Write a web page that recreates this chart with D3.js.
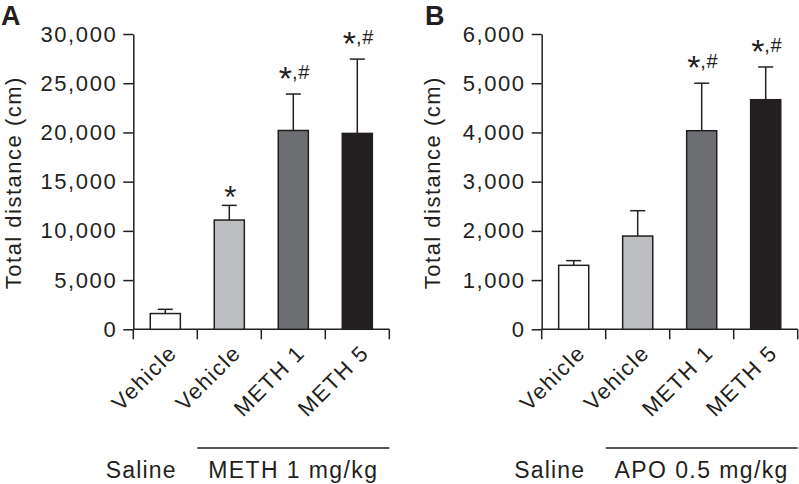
<!DOCTYPE html>
<html>
<head>
<meta charset="utf-8">
<script src="https://cdn.jsdelivr.net/npm/d3@7"></script>
<style>
  html, body { margin: 0; padding: 0; background: #fff; }
  svg { display: block; }
  text { font-family: "Liberation Sans", Arial, Helvetica, sans-serif; fill: #231f20; }
</style>
</head>
<body>
<svg id="chart" width="799" height="484"></svg>
<script>
// ---- data ----
const categories = ["Vehicle", "Vehicle", "METH 1", "METH 5"];
const barColors = ["#ffffff", "#bcbdc0", "#6d6e71", "#231f20"];

const meansA = [1600, 11100, 20200, 19900];
const semA   = [430, 1490, 3700, 7550];
const sigA   = ["", "*", "*,#", "*,#"];
const ticksA = [0, 5000, 10000, 15000, 20000, 25000, 30000];
const maxA   = 30000;
const groupA = ["Saline", "METH 1 mg/kg"];

const meansB = [1300, 1895, 4035, 4665];
const semB   = [95, 515, 965, 665];
const sigB   = ["", "", "*,#", "*,#"];
const ticksB = [0, 1000, 2000, 3000, 4000, 5000, 6000];
const maxB   = 6000;
const groupB = ["Saline", "APO 0.5 mg/kg"];

const yLabel = "Total distance (cm)";

// ---- drawing ----
const svg = d3.select("#chart");
const ink = "#231f20";
const fmt = d3.format(",");
const yTop = 34, yBottom = 329.3;

function panel(opt) {
  const { letter, letterX, x0, labelX, means, sem, sig, ticks, max, group } = opt;
  const g = svg.append("g");
  const width = 256;

  const y = d3.scaleLinear().domain([0, max]).range([yBottom, yTop]);
  const x = d3.scaleBand().domain(d3.range(categories.length))
    .range([x0, x0 + width]).paddingInner(0.53).paddingOuter(0.265);

  // panel letter
  g.append("text").attr("x", letterX).attr("y", 25)
    .attr("font-size", 27).attr("font-weight", "bold").text(letter);

  // y axis
  const yAxis = d3.axisLeft(y).tickValues(ticks).tickFormat(fmt)
    .tickSize(10).tickSizeOuter(0).tickPadding(6);
  const ya = g.append("g").attr("transform", `translate(${x0},0)`).call(yAxis);
  ya.selectAll("path, line").attr("stroke", ink).attr("stroke-width", 1.5);
  ya.selectAll("text").attr("font-size", 22).attr("letter-spacing", 1.6)
    .attr("fill", ink).style("font-family", '"Liberation Sans", Arial, sans-serif');

  // x axis line and boundary ticks
  g.append("line").attr("x1", x0).attr("x2", x0 + width)
    .attr("y1", yBottom).attr("y2", yBottom)
    .attr("stroke", ink).attr("stroke-width", 1.5);
  const bounds = d3.range(categories.length + 1).map(i => x0 + i * x.step());
  g.selectAll(".xt").data(bounds).enter().append("line")
    .attr("x1", d => d).attr("x2", d => d)
    .attr("y1", yBottom).attr("y2", yBottom + 10)
    .attr("stroke", ink).attr("stroke-width", 1.5);

  // y label
  g.append("text")
    .attr("transform", `translate(${labelX},${(yTop + yBottom) / 2 + 1}) rotate(-90)`)
    .attr("text-anchor", "middle").attr("font-size", 22).attr("letter-spacing", 1.5)
    .text(yLabel);

  // error bars (upper only)
  const idx = d3.range(categories.length);
  const cx = i => x(i) + x.bandwidth() / 2;
  g.selectAll(".err").data(idx).enter().append("line")
    .attr("x1", cx).attr("x2", cx)
    .attr("y1", i => y(means[i])).attr("y2", i => y(means[i] + sem[i]))
    .attr("stroke", ink).attr("stroke-width", 1.5);
  g.selectAll(".cap").data(idx).enter().append("line")
    .attr("x1", i => cx(i) - 7.5).attr("x2", i => cx(i) + 7.5)
    .attr("y1", i => y(means[i] + sem[i])).attr("y2", i => y(means[i] + sem[i]))
    .attr("stroke", ink).attr("stroke-width", 1.5);

  // bars
  g.selectAll(".bar").data(idx).enter().append("rect")
    .attr("x", i => x(i)).attr("width", x.bandwidth())
    .attr("y", i => y(means[i])).attr("height", i => yBottom - y(means[i]))
    .attr("fill", i => barColors[i]).attr("stroke", ink).attr("stroke-width", 1.5);

  // significance marks
  idx.filter(i => sig[i]).forEach(i => {
    const top = y(means[i] + sem[i]);
    const base = sig[i].length > 1 ? top - 15 : top - 8;
    const t = g.append("text").attr("x", cx(i) + 1).attr("y", base)
      .attr("text-anchor", "middle");
    const parts = sig[i].split(/(?=,)/);
    t.append("tspan").attr("font-size", sig[i].length > 1 ? 34 : 31).attr("dy", 11).text(parts[0]);
    if (parts[1]) t.append("tspan").attr("font-size", 20).attr("dy", -11)
      .attr("letter-spacing", 0.6).text(parts[1]);
  });

  // rotated category labels
  idx.forEach(i => {
    g.append("text")
      .attr("transform", `translate(${cx(i) + 13},${yBottom + 25}) rotate(-45)`)
      .attr("text-anchor", "end").attr("font-size", 22).attr("letter-spacing", 1.5)
      .text(categories[i]);
  });

  // group labels and bracket
  g.append("line").attr("x1", bounds[1]).attr("x2", bounds[4])
    .attr("y1", 448).attr("y2", 448).attr("stroke", ink).attr("stroke-width", 1.5);
  g.append("text").attr("x", x0 + 8).attr("y", 478).attr("text-anchor", "middle")
    .attr("font-size", 23).attr("letter-spacing", 1.2).text(group[0]);
  g.append("text").attr("x", (bounds[1] + bounds[4]) / 2).attr("y", 478)
    .attr("text-anchor", "middle").attr("font-size", 23).attr("letter-spacing", 1.4)
    .text(group[1]);
}

panel({ letter: "A", letterX: 1, x0: 133.3, labelX: 21, means: meansA, sem: semA, sig: sigA,
        ticks: ticksA, max: maxA, group: groupA });
panel({ letter: "B", letterX: 425, x0: 541.7, labelX: 440, means: meansB, sem: semB, sig: sigB,
        ticks: ticksB, max: maxB, group: groupB });
</script>
</body>
</html>
